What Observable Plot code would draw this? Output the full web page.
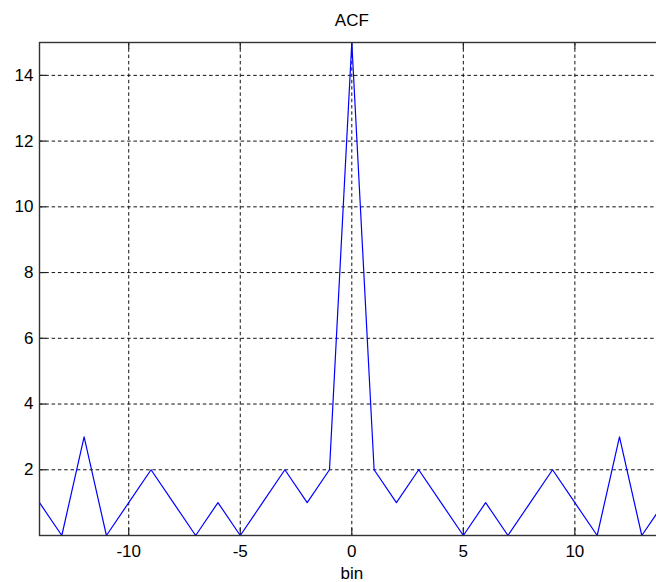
<!DOCTYPE html>
<html>
<head>
<meta charset="utf-8">
<script src="https://cdn.jsdelivr.net/npm/d3@7"></script>
<script src="https://cdn.jsdelivr.net/npm/@observablehq/plot@0.6"></script>
<style>
  html, body { margin: 0; padding: 0; background: #fff; overflow: hidden; }
</style>
</head>
<body>
<div id="chart"></div>
<script>
// Autocorrelation of the sequence, one value per lag (bin)
const lags = [-14, -13, -12, -11, -10, -9, -8, -7, -6, -5, -4, -3, -2, -1, 0,
              1, 2, 3, 4, 5, 6, 7, 8, 9, 10, 11, 12, 13, 14];
const acf  = [1, 0, 3, 0, 1, 2, 1, 0, 1, 0, 1, 2, 1, 2, 15,
              2, 1, 2, 1, 0, 1, 0, 1, 2, 1, 0, 3, 0, 1];

const xTicks = [-10, -5, 0, 5, 10];
const yTicks = [2, 4, 6, 8, 10, 12, 14];
const titleText = "ACF";
const xLabel = "bin";

const W = 656, H = 582;
const mL = 39, mR = -7.6, mT = 42, mB = 47;
const plotW = W - mL - mR, plotH = H - mT - mB;
const tickLen = 7;
const dash = "3.5,2.8";
const fs = 17;

const data = lags.map((lag, i) => ({lag, value: acf[i]}));
// plain hyphen for negative numbers
const fmt = d => `${d}`;

const chart = Plot.plot({
  width: W,
  height: H,
  marginLeft: mL,
  marginRight: mR,
  marginTop: mT,
  marginBottom: mB,
  style: {
    fontFamily: "'Liberation Sans', Arial, sans-serif",
    fontSize: `${fs}px`,
    background: "#fff",
    overflow: "hidden",
    color: "#000"
  },
  x: {domain: [-14, 14]},
  y: {domain: [0, 15]},
  marks: [
    // dotted grid
    Plot.ruleX(xTicks, {stroke: "#111", strokeWidth: 1, strokeDasharray: dash}),
    Plot.ruleY(yTicks, {stroke: "#111", strokeWidth: 1, strokeDasharray: dash}),
    // inward tick marks on all sides
    Plot.ruleX(xTicks, {stroke: "#222", strokeWidth: 1.2, insetTop: plotH - tickLen}),
    Plot.ruleX(xTicks, {stroke: "#222", strokeWidth: 1.2, insetBottom: plotH - tickLen}),
    Plot.ruleY(yTicks, {stroke: "#222", strokeWidth: 1.2, insetRight: plotW - tickLen}),
    Plot.ruleY(yTicks, {stroke: "#222", strokeWidth: 1.2, insetLeft: plotW - tickLen}),
    // tick labels
    Plot.axisX(xTicks, {tickSize: 0, tickPadding: 9.5, fontSize: fs, tickFormat: fmt, label: null}),
    Plot.axisY(yTicks, {tickSize: 0, tickPadding: 6, fontSize: fs, tickFormat: fmt, label: null}),
    // ACF series
    Plot.line(data, {x: "lag", y: "value", stroke: "#0000ff", strokeWidth: 1.2}),
    // axes box
    Plot.frame({stroke: "#333", strokeWidth: 1.4}),
    // title and axis label
    Plot.text([titleText], {frameAnchor: "top", lineAnchor: "middle", dy: -21.7, fontSize: fs, fill: "#000"}),
    Plot.text([xLabel], {frameAnchor: "bottom", lineAnchor: "middle", dy: 37.6, fontSize: fs, fill: "#000"})
  ]
});

document.getElementById("chart").appendChild(chart);
</script>
</body>
</html>
